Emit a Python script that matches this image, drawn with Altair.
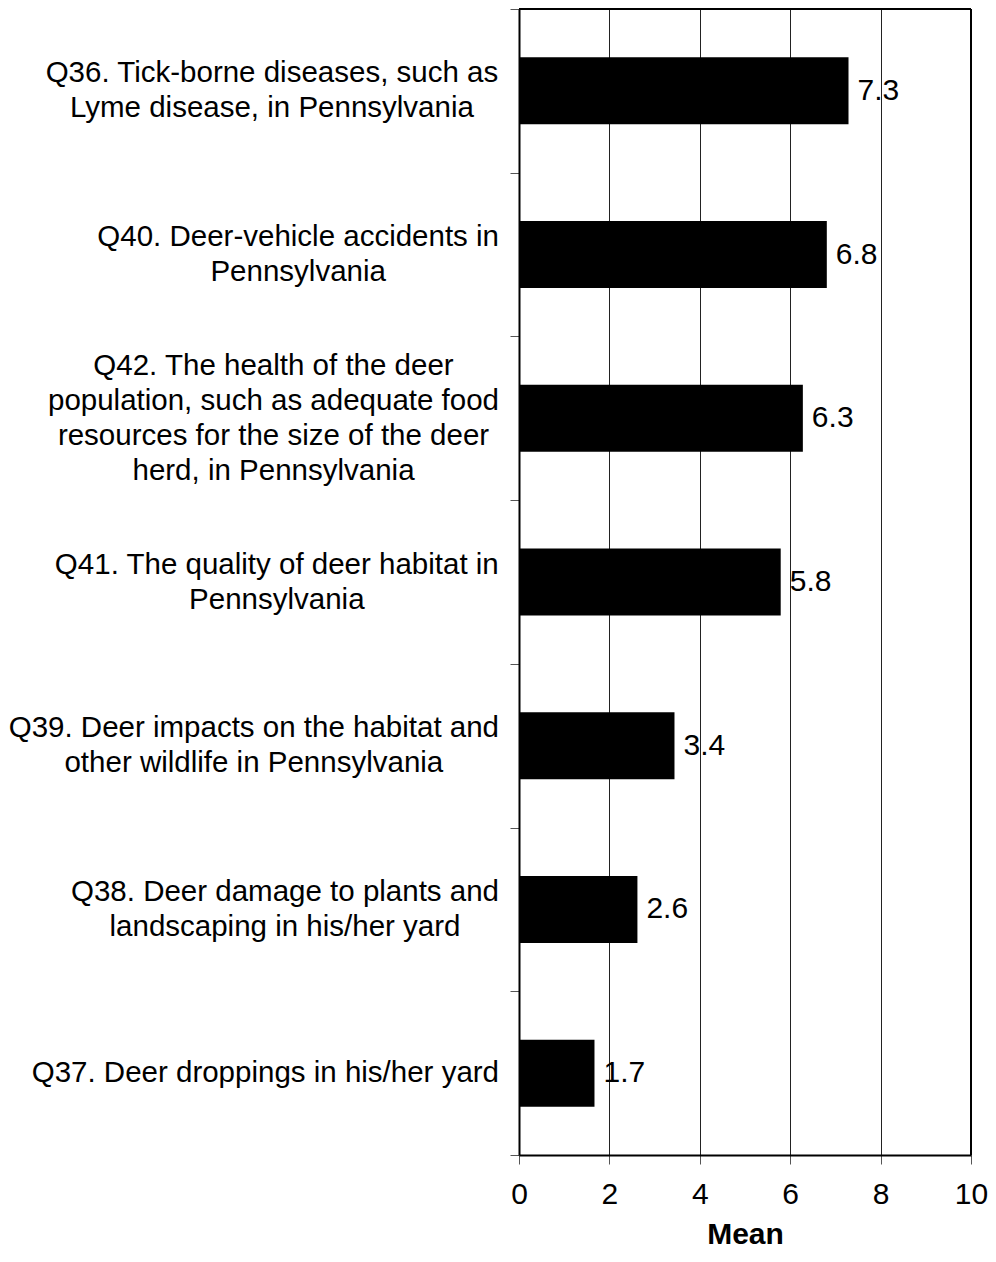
import altair as alt
import pandas as pd

# ---- data ----
questions = ["Q36", "Q40", "Q42", "Q41", "Q39", "Q38", "Q37"]
label_lines = [
    ["Q36. Tick-borne diseases, such as", "Lyme disease, in Pennsylvania"],
    ["Q40. Deer-vehicle accidents in", "Pennsylvania"],
    ["Q42. The health of the deer", "population, such as adequate food",
     "resources for the size of the deer", "herd, in Pennsylvania"],
    ["Q41. The quality of deer habitat in", "Pennsylvania"],
    ["Q39. Deer impacts on the habitat and", "other wildlife in Pennsylvania"],
    ["Q38. Deer damage to plants and", "landscaping in his/her yard"],
    ["Q37. Deer droppings in his/her yard"],
]
means = [7.29, 6.81, 6.28, 5.79, 3.44, 2.62, 1.67]
x_ticks = [0, 2, 4, 6, 8, 10]
x_max = 10

FONT = "Liberation Sans"
FS = 30
LFS = 29.5
LH = 35
PLOT_W, PLOT_H = 452, 1146
PAD = {"left": 511, "top": 1, "right": 17, "bottom": 93}
STEP = PLOT_H / len(questions)
LABEL_GAP = 20  # px between label block and axis

# Arial / Liberation Sans advance widths (per 1000 em) to centre wrapped lines in a right-aligned block
W = {" ": 278, ",": 278, "-": 333, ".": 278, "/": 278}
W.update({d: 556 for d in "0123456789"})
W.update(dict(zip("ABCDEFGHIJKLMNOPQRSTUVWXYZ",
                  [667, 667, 722, 722, 667, 611, 778, 722, 278, 500, 667, 556, 833,
                   722, 778, 667, 778, 722, 667, 611, 722, 667, 944, 667, 667, 611])))
W.update(dict(zip("abcdefghijklmnopqrstuvwxyz",
                  [556, 556, 500, 556, 556, 278, 556, 556, 222, 222, 500, 222, 833,
                   556, 556, 556, 556, 333, 500, 278, 556, 500, 722, 500, 500, 500])))


def text_w(s):
    return sum(W.get(c, 556) for c in s) * LFS / 1000.0


centers = [-LABEL_GAP - max(text_w(l) for l in lines) / 2.0 for lines in label_lines]
shifts = [STEP / 2.0 - (len(lines) - 1) * LH / 2.0 for lines in label_lines]

df = pd.DataFrame({
    "q": questions,
    "mean": means,
    "lines": label_lines,
    "cx": centers,
    "dy": shifts,
})
frame_df = pd.DataFrame({"xmax": [x_max]})

y_enc = alt.Y("q:N", sort=questions,
              scale=alt.Scale(paddingInner=0, paddingOuter=0),
              axis=alt.Axis(labels=False, title=None, tickBand="extent", tickSize=9,
                            tickColor="#555555", tickWidth=1, domain=True,
                            domainColor="black", domainWidth=2, grid=False))

bars = alt.Chart(df).mark_bar(color="black", size=67).encode(
    x=alt.X("mean:Q",
            scale=alt.Scale(domain=[0, 10], nice=False),
            axis=alt.Axis(values=x_ticks, title="Mean", labelFont=FONT, labelFontSize=FS,
                          labelColor="black", titleFont=FONT, titleFontSize=FS,
                          titleFontWeight="bold", titleColor="black", tickSize=9,
                          tickColor="#555555", labelPadding=15, titlePadding=10,
                          domain=True, domainColor="black", domainWidth=2,
                          grid=True, gridColor="#222222", gridWidth=1,
                          labelFlush=False)),
    y=y_enc,
)

right_edge = alt.Chart(frame_df).mark_rule(color="black", strokeWidth=2).encode(
    x="xmax:Q",
)
top_edge = alt.Chart(frame_df).mark_rule(color="black", strokeWidth=2).encode(
    y=alt.value(0),
)

values = alt.Chart(df).mark_text(align="left", baseline="middle", dx=9,
                                 font=FONT, fontSize=FS, color="black").encode(
    x="mean:Q",
    y=alt.Y("q:N", sort=questions),
    text=alt.Text("mean:Q", format=".1f"),
)

labels = alt.Chart(df).mark_text(align="center", baseline="middle", font=FONT,
                                 fontSize=LFS, lineHeight=LH, color="black").encode(
    x=alt.X("cx:Q", scale=None),
    y=alt.Y("q:N", sort=questions),
    yOffset=alt.YOffset("dy:Q", scale=None),
    text="lines",
)

chart = alt.layer(bars, right_edge, top_edge, values, labels).properties(
    width=PLOT_W, height=PLOT_H,
    autosize=alt.AutoSizeParams(type="none"),
    padding=PAD,
).configure_view(stroke="black", strokeWidth=2, strokeOpacity=1).configure(background="white")

chart.save("out.html", embed_options={"renderer": "svg", "actions": False})
